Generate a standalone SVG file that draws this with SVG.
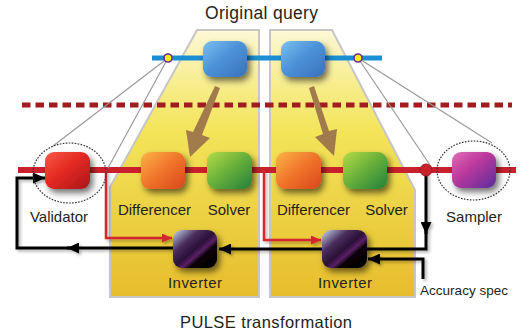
<svg xmlns="http://www.w3.org/2000/svg" width="531" height="336" viewBox="0 0 531 336">
  <defs>
    <style>
      .label { font-family: "Liberation Sans", Arial, sans-serif; fill: #231f20; text-anchor: middle; }
      .panel { fill: url(#panelFill); stroke: #c6c6c6; stroke-width: 2; }
      .persp { fill: none; stroke: #9a9a9a; stroke-width: 1.2; }
      .ring { fill: none; stroke: #333; stroke-width: 1.2; stroke-dasharray: 1.6 1.4; }
      .wire { fill: none; stroke: #000; stroke-width: 3; stroke-linejoin: miter; }
      .feed { fill: none; stroke: #d3262e; stroke-width: 2.5; }
      .node { filter: url(#drop); }
    </style>
    <linearGradient id="panelFill" gradientUnits="userSpaceOnUse" x1="0" y1="30" x2="0" y2="297">
      <stop offset="0" stop-color="#fcf8d6"/>
      <stop offset="0.22" stop-color="#f7ec88"/>
      <stop offset="0.38" stop-color="#f3e45a"/>
      <stop offset="1" stop-color="#e6bd2c"/>
    </linearGradient>
    <linearGradient id="gBlue" x1="0" y1="0" x2="1" y2="1">
      <stop offset="0" stop-color="#7cc0ee"/>
      <stop offset="0.45" stop-color="#4d93d9"/>
      <stop offset="1" stop-color="#3a70bb"/>
    </linearGradient>
    <linearGradient id="gRed" x1="0" y1="0" x2="1" y2="1">
      <stop offset="0" stop-color="#f55a48"/>
      <stop offset="0.45" stop-color="#e52a22"/>
      <stop offset="1" stop-color="#a81518"/>
    </linearGradient>
    <linearGradient id="gOrange" x1="0" y1="0" x2="1" y2="1">
      <stop offset="0" stop-color="#fbb447"/>
      <stop offset="0.5" stop-color="#f0742a"/>
      <stop offset="1" stop-color="#d8461e"/>
    </linearGradient>
    <linearGradient id="gGreen" x1="0" y1="0" x2="1" y2="1">
      <stop offset="0" stop-color="#b6dc48"/>
      <stop offset="0.45" stop-color="#6db33a"/>
      <stop offset="1" stop-color="#22803a"/>
    </linearGradient>
    <linearGradient id="gMagenta" x1="0" y1="0" x2="1" y2="1">
      <stop offset="0" stop-color="#e070b8"/>
      <stop offset="0.4" stop-color="#bf3a9e"/>
      <stop offset="1" stop-color="#5a2c9a"/>
    </linearGradient>
    <linearGradient id="gInvert" x1="0" y1="0" x2="1" y2="1">
      <stop offset="0" stop-color="#c8dcef"/>
      <stop offset="0.3" stop-color="#4a2e5c"/>
      <stop offset="0.5" stop-color="#2a1038"/>
      <stop offset="0.6" stop-color="#5a2066"/>
      <stop offset="0.68" stop-color="#0a0408"/>
      <stop offset="1" stop-color="#000"/>
    </linearGradient>
    <filter id="drop" x="-30%" y="-30%" width="170%" height="170%">
      <feDropShadow dx="3" dy="4" stdDeviation="3" flood-color="#000" flood-opacity="0.55"/>
    </filter>
    <filter id="soft" x="-10%" y="-10%" width="120%" height="120%">
      <feDropShadow dx="2" dy="2" stdDeviation="1.5" flood-color="#000" flood-opacity="0.3"/>
    </filter>
    <marker id="ahBlack" markerUnits="userSpaceOnUse" markerWidth="12" markerHeight="11" refX="12" refY="5.5" orient="auto">
      <path d="M0,0 L12,5.5 L0,11 z" fill="#000"/>
    </marker>
    <marker id="ahRed" markerUnits="userSpaceOnUse" markerWidth="10" markerHeight="9" refX="10" refY="4.5" orient="auto">
      <path d="M0,0 L10,4.5 L0,9 z" fill="#d3262e"/>
    </marker>
  </defs>

  <rect width="531" height="336" fill="#fff"/>

  <!-- transformation panels -->
  <g id="panels">
    <polygon class="panel" points="197,30 259,30 259,297 110,297 110,187"/>
    <polygon class="panel" points="270,30 332,30 415,190 415,297 270,297"/>
  </g>

  <!-- abstraction level separator -->
  <line x1="22" y1="105" x2="512" y2="105" stroke="#a01c20" stroke-width="5" stroke-dasharray="8.5 5"/>

  <!-- main pipelines -->
  <line x1="152" y1="58" x2="382" y2="58" stroke="#1b8fd2" stroke-width="5"/>
  <line x1="18" y1="170" x2="516" y2="170" stroke="#c9212b" stroke-width="6"/>

  <!-- projection lines -->
  <g id="projection">
    <line class="persp" x1="168" y1="58" x2="53" y2="146"/>
    <line class="persp" x1="168" y1="58" x2="108" y2="168"/>
    <line class="persp" x1="358" y1="58" x2="432" y2="168"/>
    <line class="persp" x1="358" y1="58" x2="492" y2="143"/>
  </g>

  <!-- refinement arrows -->
  <g id="refine" fill="#a27b4c">
    <polygon points="215,86 220,88 202,135 210,138 190,157 186,130 193,132"/>
    <polygon points="309,88 314,86 329,131 337,129 334,156 315,137 323,134"/>
  </g>

  <!-- connectors -->
  <g id="connectors">
    <g filter="url(#soft)">
      <path class="feed" d="M106,170 V238 H172" marker-end="url(#ahRed)"/>
      <path class="feed" d="M264,170 V240 H321" marker-end="url(#ahRed)"/>
      <path class="wire" d="M173,248 H67" marker-end="url(#ahBlack)"/>
      <path class="wire" d="M70,248 H17 V178 H45" marker-end="url(#ahBlack)"/>
      <path class="wire" d="M426,170 V234" marker-end="url(#ahBlack)"/>
      <path class="wire" d="M426,228 V249 H219" marker-end="url(#ahBlack)"/>
      <path class="wire" d="M423,279 V259 H368" marker-end="url(#ahBlack)"/>
    </g>
    <circle cx="426" cy="170" r="6" fill="#c9212b" stroke="#9b1a20" stroke-width="1"/>
    <circle cx="168" cy="58" r="4" fill="#ffef00" stroke="#6b2b8c" stroke-width="1.6"/>
    <circle cx="358" cy="58" r="4" fill="#ffef00" stroke="#6b2b8c" stroke-width="1.6"/>
  </g>

  <!-- query operators -->
  <g id="query-a"><rect class="node" x="203" y="41" width="44" height="36" rx="9" fill="url(#gBlue)"/></g>
  <g id="query-b"><rect class="node" x="281" y="41" width="44" height="36" rx="9" fill="url(#gBlue)"/></g>

  <!-- PULSE operators -->
  <g id="validator">
    <rect class="node" x="45" y="152" width="45" height="37" rx="9" fill="url(#gRed)"/>
    <ellipse class="ring" cx="69.5" cy="173" rx="36.5" ry="30"/>
    <text class="label" x="59" y="222" font-size="15">Validator</text>
  </g>
  <g id="differencer-a">
    <rect class="node" x="141" y="152" width="44" height="37" rx="9" fill="url(#gOrange)"/>
    <text class="label" x="154.5" y="215" font-size="15">Differencer</text>
  </g>
  <g id="solver-a">
    <rect class="node" x="207" y="152" width="45" height="37" rx="9" fill="url(#gGreen)"/>
    <text class="label" x="229" y="215" font-size="15">Solver</text>
  </g>
  <g id="differencer-b">
    <rect class="node" x="276" y="152" width="45" height="37" rx="9" fill="url(#gOrange)"/>
    <text class="label" x="313.5" y="215" font-size="15">Differencer</text>
  </g>
  <g id="solver-b">
    <rect class="node" x="343" y="152" width="44" height="37" rx="9" fill="url(#gGreen)"/>
    <text class="label" x="386.5" y="215" font-size="15">Solver</text>
  </g>
  <g id="sampler">
    <rect class="node" x="452" y="152" width="44" height="36" rx="9" fill="url(#gMagenta)"/>
    <ellipse class="ring" cx="473.5" cy="170.5" rx="36.5" ry="29.5"/>
    <text class="label" x="474" y="222" font-size="15">Sampler</text>
  </g>
  <g id="inverter-a">
    <rect class="node" x="173" y="230" width="44" height="38" rx="9" fill="url(#gInvert)"/>
    <text class="label" x="195" y="288" font-size="15" textLength="54">Inverter</text>
  </g>
  <g id="inverter-b">
    <rect class="node" x="322" y="230" width="45" height="38" rx="9" fill="url(#gInvert)"/>
    <text class="label" x="345" y="288" font-size="15" textLength="54">Inverter</text>
  </g>

  <!-- captions -->
  <text class="label" x="420" y="295" font-size="13.5" style="text-anchor:start" textLength="88">Accuracy spec</text>
  <text class="label" x="261.5" y="19" font-size="17.5" textLength="113">Original query</text>
  <text class="label" x="266" y="328" font-size="16.5" textLength="172">PULSE transformation</text>
</svg>
